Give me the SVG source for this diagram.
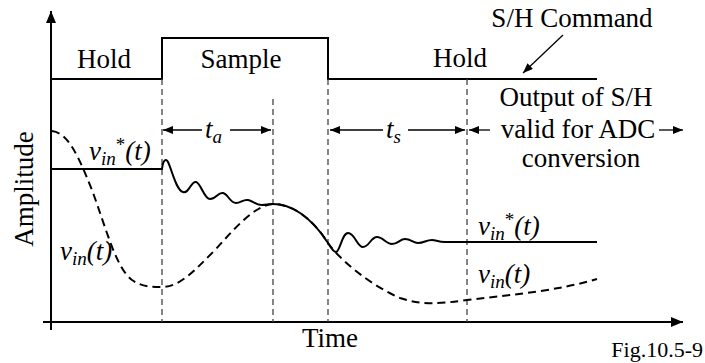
<svg xmlns="http://www.w3.org/2000/svg" width="705" height="363" viewBox="0 0 705 363">
<style>
text{font-family:"Liberation Serif","Times New Roman","DejaVu Serif",serif;font-size:27px;fill:#000}
.it{font-style:italic}
.sub{font-size:19px}
.ax{stroke:#000;stroke-width:2;fill:none}
.sig{stroke:#000;stroke-width:2;fill:none}
.vdash{stroke:#444;stroke-width:1.3;stroke-dasharray:6,4;fill:none}
.dsig{stroke:#000;stroke-width:2;stroke-dasharray:8,5;fill:none}
.dim{stroke:#000;stroke-width:1.3;fill:none;marker-end:url(#ah)}
</style>
<defs>
<marker id="ah" viewBox="0 0 10 8" refX="10" refY="4" markerWidth="10" markerHeight="8" markerUnits="userSpaceOnUse" orient="auto"><path d="M0,0 L10,4 L0,8 z" fill="#000"/></marker>
<marker id="big" viewBox="0 0 12 10" refX="12" refY="5" markerWidth="12" markerHeight="10" markerUnits="userSpaceOnUse" orient="auto"><path d="M0,0 L12,5 L0,10 z" fill="#000"/></marker>
</defs>
<g id="axes" font-family="Liberation Serif, serif">
<path class="ax" d="M51,330 L51,11" marker-end="url(#big)"/>
<path class="ax" d="M43,322 L683,322" marker-end="url(#big)"/>
<text transform="translate(33,189) rotate(-90)" text-anchor="middle">Amplitude</text>
<text x="330" y="347" text-anchor="middle">Time</text>
</g>
<g id="command">
<path class="sig" d="M51,79 H162 V38 H328 V79 H597"/>
<text x="104" y="68" text-anchor="middle">Hold</text>
<text x="241" y="68" text-anchor="middle">Sample</text>
<text x="460" y="67" text-anchor="middle">Hold</text>
<text x="572" y="27" text-anchor="middle">S/H Command</text>
</g>
<g id="markers">
<path class="vdash" d="M162,79 V322 M273,99 V322 M328,79 V322 M467,79 V322"/>
</g>
<g id="vin">
<path class="dsig" d="M52,131 C68,133 78,155 92,190 C106,228 116,268 132,280 C142,287 152,287 162,287 C180,287 195,270 215,250 C235,228 255,205 273,204 C290,204 310,215 328,243 C340,260 370,285 400,298 C420,305 440,304 467,300 C520,294 560,290 597,279"/>
<text x="60" y="260"><tspan class="it">v</tspan><tspan class="it sub" dy="5">in</tspan><tspan class="it" dy="-5">(t)</tspan></text>
<text x="478" y="283"><tspan class="it">v</tspan><tspan class="it sub" dy="5">in</tspan><tspan class="it" dy="-5">(t)</tspan></text>
</g>
<g id="vinstar">
<path class="sig" d="M51,169 L162,169 C163,160 166,158 168,162 C172,170 176,190 183,192 C189,194 191,181 196,182 C201,183 204,199 210,199 C216,199 218,192 223,193 C228,194 230,203 236,203 C241,203 243,199 248,200 C253,201 256,205 262,205 C266,205 269,204 273,204 C290,204 310,215 328,243 C331,248 333,252 336,252 C340,252 342,233 348,233 C355,233 357,247 363,247 C369,247 371,237 377,237 C383,237 386,244 392,244 C398,244 400,239 405,239 C411,239 413,243 418,243 C424,243 426,240 432,240 C436,240 438,242 445,242 L597,242"/>
<text x="89" y="160"><tspan class="it">v</tspan><tspan class="it sub" dy="5">in</tspan><tspan class="sub" dy="-14">*</tspan><tspan class="it" dy="9">(t)</tspan></text>
<text x="478" y="235"><tspan class="it">v</tspan><tspan class="it sub" dy="5">in</tspan><tspan class="sub" dy="-14">*</tspan><tspan class="it" dy="9">(t)</tspan></text>
</g>
<g id="connectors">
<path class="dim" d="M202,130 L163,130"/>
<path class="dim" d="M230,130 L271,130"/>
<path class="dim" d="M383,130 L330,130"/>
<path class="dim" d="M408,130 L465,130"/>
<path class="dim" d="M490,130 L469,130"/>
<path class="dim" d="M659,130 L683,130"/>
<path class="dim" d="M563,35 L523,73"/>
</g>
<g id="labels">
<text x="205" y="138"><tspan class="it">t</tspan><tspan class="it sub" dy="5">a</tspan></text>
<text x="386" y="138"><tspan class="it">t</tspan><tspan class="it sub" dy="5">s</tspan></text>
<text x="576" y="106" text-anchor="middle">Output of S/H</text>
<text x="578" y="138" text-anchor="middle">valid for ADC</text>
<text x="581" y="167" text-anchor="middle">conversion</text>
<text x="703" y="357" text-anchor="end" style="font-size:22px">Fig.10.5-9</text>
</g>
</svg>
